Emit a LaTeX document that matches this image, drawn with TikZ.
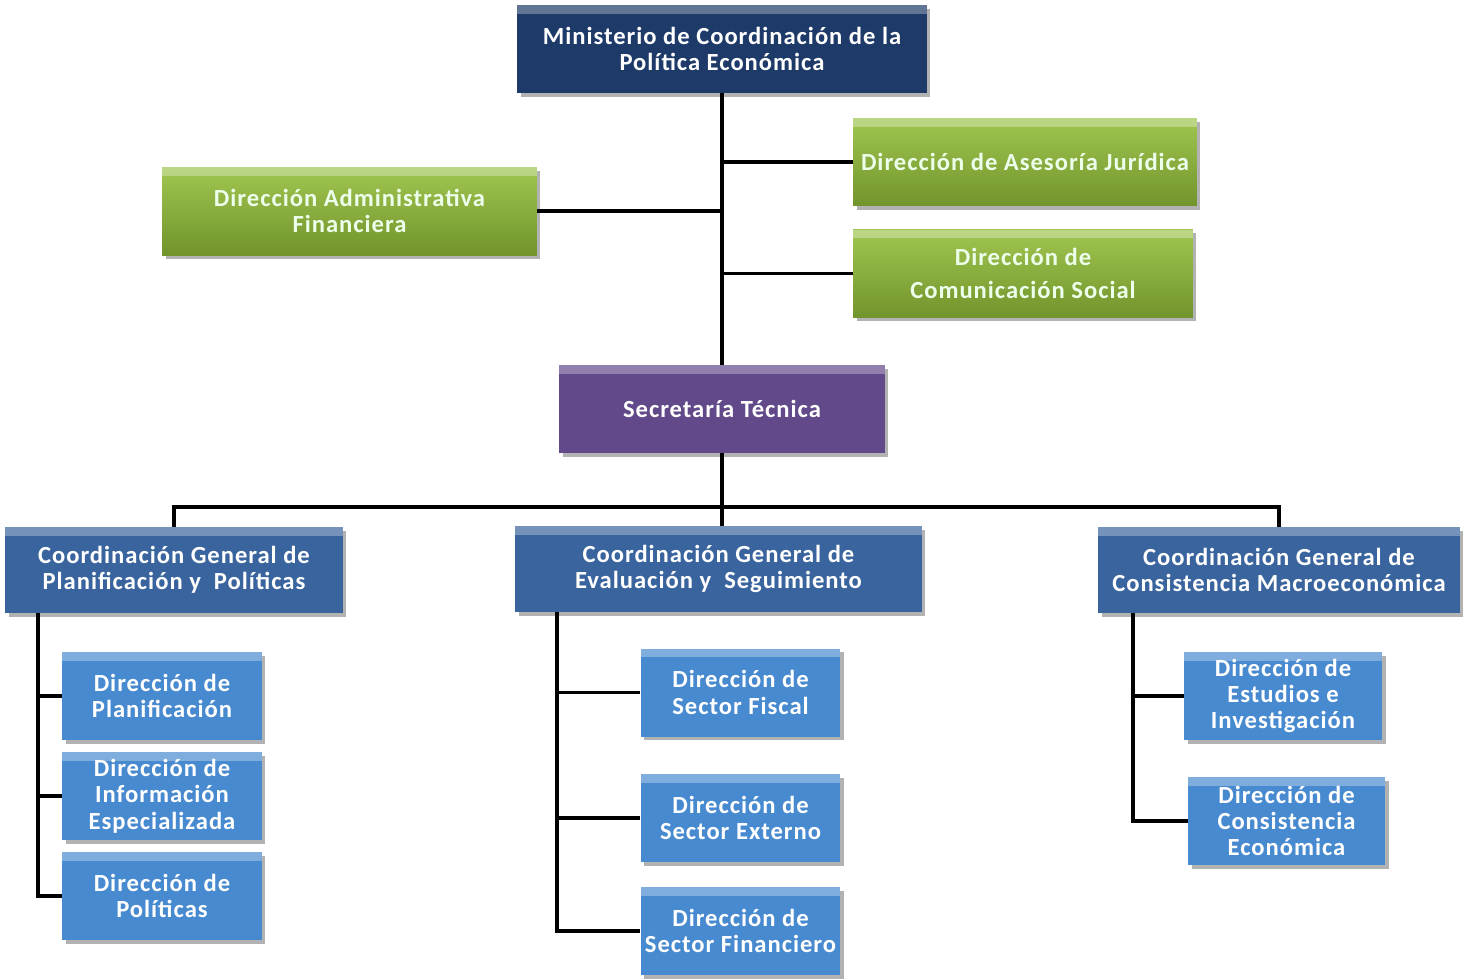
\documentclass[tikz,border=0pt]{standalone}
\usepackage{fontspec}
\setmainfont{Carlito}[LetterSpace=4]
\usetikzlibrary{positioning, shadows}

\definecolor{navy}{RGB}{30,58,104}
\definecolor{leaf}{RGB}{134,174,52}
\definecolor{leafhi}{RGB}{160,198,80}
\definecolor{plum}{RGB}{98,74,138}
\definecolor{steel}{RGB}{58,100,158}
\definecolor{sky}{RGB}{72,138,208}

\begin{document}
\begin{tikzpicture}[
    x=0.02cm, y=-0.02cm,
    font=\fontsize{14}{15}\selectfont\bfseries,
    box/.style={rectangle, align=center, inner sep=0pt, text=white,
        drop shadow={shadow xshift=2pt, shadow yshift=-2pt, fill=black, opacity=0.3},
        path picture={\fill[white, opacity=0.3] (path picture bounding box.north west)
            rectangle ([yshift=-5pt]path picture bounding box.north east);}},
    top/.style={box, fill=navy, minimum width=8.2cm, minimum height=1.76cm},
    green/.style={box, top color=leafhi, bottom color=leaf!85!black, text=green!8!white, minimum height=1.76cm},
    sec/.style={box, fill=plum, minimum width=6.52cm, minimum height=1.76cm},
    coord/.style={box, fill=steel, minimum height=1.72cm},
    dirb/.style={box, fill=sky, minimum width=4cm, minimum height=1.76cm},
    link/.style={line width=2.2pt, black}
]

%% ── Bounding box ────────────────────────────────────────────────────────────
\useasboundingbox (0,0) rectangle (1463,978);

%% ── Top levels ──────────────────────────────────────────────────────────────
\node[top]   (min) at (722, 49)    {Ministerio de Coordinación de la\\Política Económica};
\node[green, minimum width=6.88cm] (asj) at (1025, 162)  {Dirección de Asesoría Jurídica};
\node[green, minimum width=7.5cm]  (adm) at (349.5, 211) {Dirección Administrativa\\Financiera};
\node[green, minimum width=6.8cm]  (com) at (1023, 273.5) {Dirección de\\[4pt]Comunicación Social};
\node[sec]   (sec) at (722, 409)   {Secretaría Técnica};

%% ── Coordinaciones generales ────────────────────────────────────────────────
\node[coord, minimum width=6.76cm] (cg1) at (174, 570)   {Coordinación General de\\Planificación y\ \ Políticas};
\node[coord, minimum width=8.14cm] (cg2) at (718.5, 569) {Coordinación General de\\Evaluación y\ \ Seguimiento};
\node[coord, minimum width=7.24cm] (cg3) at (1279, 570)  {Coordinación General de\\Consistencia Macroeconómica};

%% ── Direcciones (left) ──────────────────────────────────────────────────────
\node[dirb] (dp1) at (162, 696) {Dirección de\\Planificación};
\node[dirb] (dp2) at (162, 796) {Dirección de\\Información\\Especializada};
\node[dirb] (dp3) at (162, 896) {Dirección de\\Políticas};

%% ── Direcciones (center) ────────────────────────────────────────────────────
\node[dirb] (ds1) at (740.5, 692.5) {Dirección de\\Sector Fiscal};
\node[dirb] (ds2) at (740.5, 818)   {Dirección de\\Sector Externo};
\node[dirb] (ds3) at (740.5, 931)   {Dirección de\\Sector Financiero};

%% ── Direcciones (right) ─────────────────────────────────────────────────────
\node[dirb, minimum width=3.96cm] (dc1) at (1283, 696)   {Dirección de\\Estudios e\\Investigación};
\node[dirb, minimum width=3.94cm] (dc2) at (1286.5, 821) {Dirección de\\Consistencia\\Económica};

%% ── Trunk and staff branches ────────────────────────────────────────────────
\draw[link] (min.south) -- (sec.north);
\draw[link] (asj.west) -- (asj.west -| min.south);
\draw[link] (adm.east) -- (adm.east -| min.south);
\draw[link] (com.west) -- (com.west -| min.south);

%% ── Secretaría → coordinaciones ─────────────────────────────────────────────
\coordinate (bar) at (722, 507);
\draw[link] (sec.south) -- (bar);
\draw[link] (cg1.north) |- (bar) -| (cg3.north);
\draw[link] (bar) -- (bar |- cg2.north);

%% ── Coordinación branches ───────────────────────────────────────────────────
\coordinate (tl) at (38, 0);
\coordinate (tc) at (557, 0);
\coordinate (tr) at (1133, 0);
\draw[link] (tl |- cg1.south) |- (dp3.west);
\draw[link] (dp1.west) -- (dp1.west -| tl);
\draw[link] (dp2.west) -- (dp2.west -| tl);
\draw[link] (tc |- cg2.south) |- (ds3.west);
\draw[link] (ds1.west) -- (ds1.west -| tc);
\draw[link] (ds2.west) -- (ds2.west -| tc);
\draw[link] (tr |- cg3.south) |- (dc2.west);
\draw[link] (dc1.west) -- (dc1.west -| tr);

\end{tikzpicture}
\end{document}
